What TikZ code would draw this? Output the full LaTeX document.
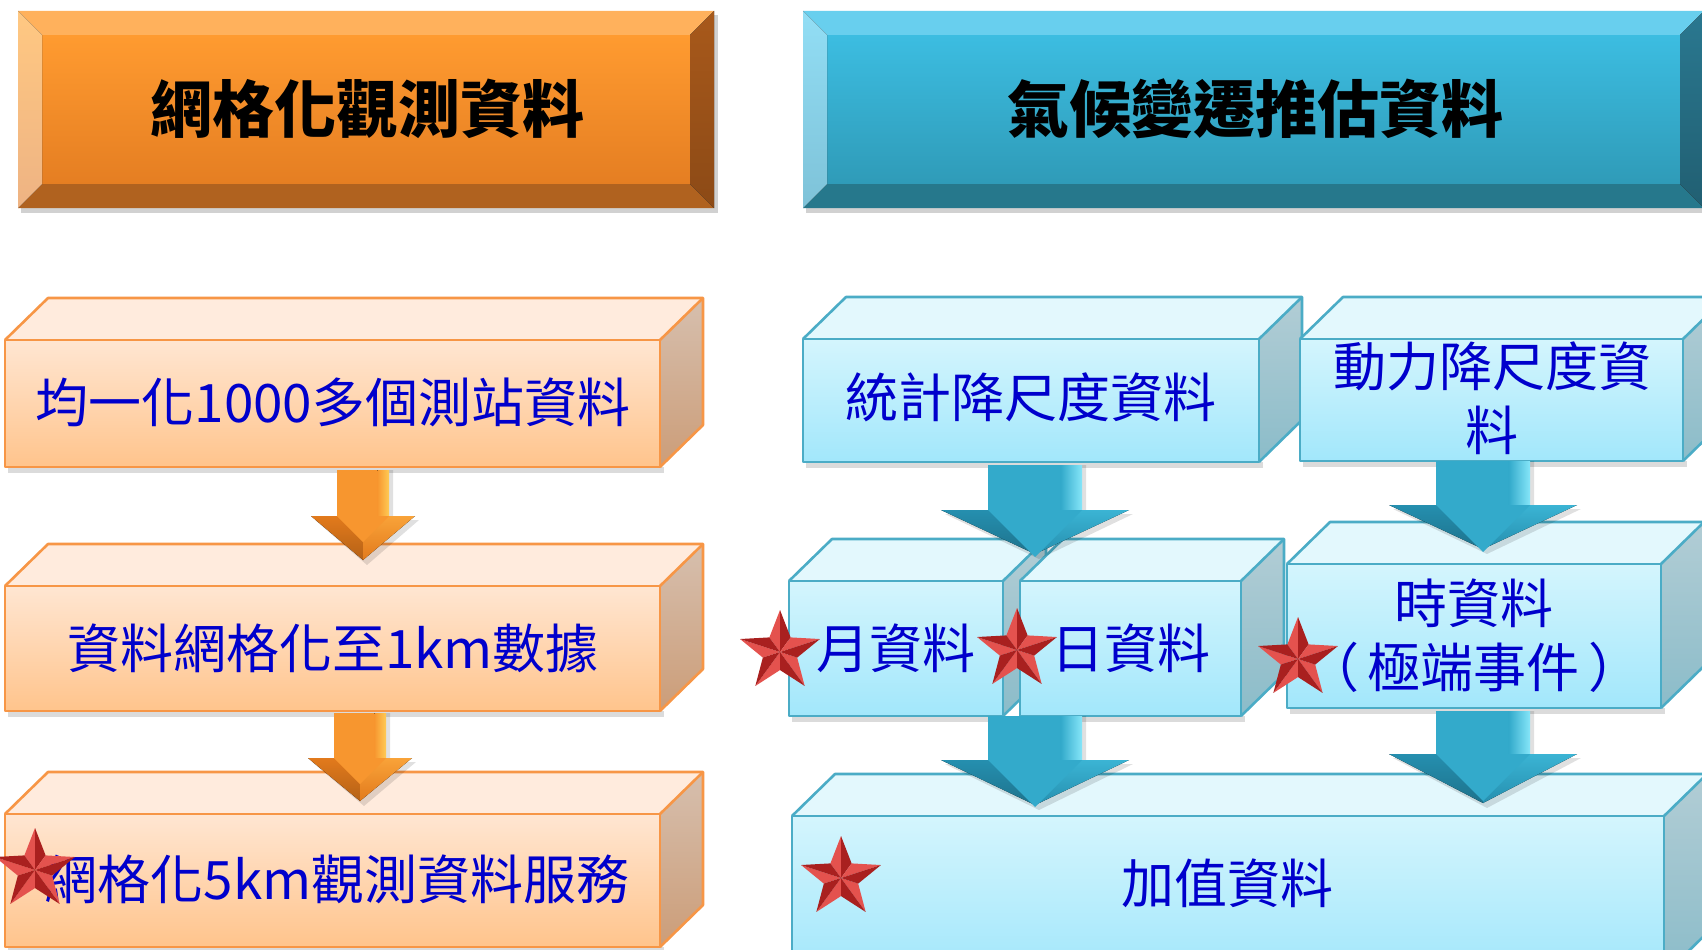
\documentclass[tikz,border=0pt]{standalone}
\usepackage{fontspec}
\setmainfont{Noto Sans CJK TC}
\newfontfamily\cjk{Noto Sans CJK TC}
\usetikzlibrary{calc}
% orange palette
\definecolor{oft}{HTML}{FFE6D2}
\definecolor{ofb}{HTML}{FFC48C}
\definecolor{otp}{HTML}{FFEBDD}
\definecolor{ost}{HTML}{D6BFAE}
\definecolor{osb}{HTML}{CC9D78}
\definecolor{oln}{HTML}{F79646}
% blue palette
\definecolor{bft}{HTML}{D4F5FD}
\definecolor{bfb}{HTML}{A2E7FB}
\definecolor{btp}{HTML}{E3F8FD}
\definecolor{bst}{HTML}{B2CDD5}
\definecolor{bsb}{HTML}{8BBCC9}
\definecolor{bln}{HTML}{4BACC6}
% headers
\definecolor{hoft}{HTML}{FF9B30}
\definecolor{hofb}{HTML}{E57E22}
\definecolor{hotp}{HTML}{FFB15C}
\definecolor{hobt}{HTML}{B0621F}
\definecolor{holt}{HTML}{FFC882}
\definecolor{holb}{HTML}{EEB383}
\definecolor{hort}{HTML}{A8591B}
\definecolor{horb}{HTML}{8C4A16}
\definecolor{hbft}{HTML}{3CBDE1}
\definecolor{hbfb}{HTML}{2F9BB8}
\definecolor{hbtp}{HTML}{68CFEE}
\definecolor{hbbt}{HTML}{26788C}
\definecolor{hblt}{HTML}{92DEF5}
\definecolor{hblb}{HTML}{7EC2D8}
\definecolor{hbrt}{HTML}{2A7890}
\definecolor{hbrb}{HTML}{215F72}
% arrows
\definecolor{oa1}{HTML}{EE8626}
\definecolor{oa2}{HTML}{F7962F}
\definecolor{oa3}{HTML}{FFCB55}
\definecolor{oh1}{HTML}{E27A1C}
\definecolor{oh2}{HTML}{F9A339}
\definecolor{ba1}{HTML}{2A9DBE}
\definecolor{ba2}{HTML}{33AACB}
\definecolor{ba3}{HTML}{86E6F9}
\definecolor{bh1}{HTML}{258FAF}
\definecolor{bh2}{HTML}{3BB4D4}
% stars
\definecolor{sl}{HTML}{E4524E}
\definecolor{sd}{HTML}{A9201F}
\definecolor{so}{HTML}{7E1414}
\definecolor{txtblue}{HTML}{0000CC}

\tikzset{
  boxtext/.style={font=\fontsize{53}{64}\selectfont, text=txtblue, align=center, inner sep=0pt},
  headtext/.style={font=\fontsize{62}{70}\selectfont\bfseries, text=black, inner sep=0pt},
}

% 3D box: x1 y1 x2 y2 palette
\newcommand\cube[5]{%
  \fill[black,opacity=.14] (#1+3,#4) rectangle (#3+4,#4+6);
  \fill[top color=#5ft,bottom color=#5fb] (#1,#2) rectangle (#3,#4);
  \fill[#5tp] (#1,#2) -- (#1+43,#2-42) -- (#3+43,#2-42) -- (#3,#2) -- cycle;
  \fill[top color=#5st,bottom color=#5sb] (#3,#2) -- (#3+43,#2-42) -- (#3+43,#4-42) -- (#3,#4) -- cycle;
  \draw[#5ln,line width=2.6pt,line join=round] (#1,#2) rectangle (#3,#4);
  \draw[#5ln,line width=2.6pt,line join=round] (#1,#2) -- (#1+43,#2-42) -- (#3+43,#2-42) -- (#3+43,#4-42) -- (#3,#4);
  \draw[#5ln,line width=2.6pt] (#3,#2) -- (#3+43,#2-42);
}

% block arrow: cx ytop yhead ytip shafthalf headhalf palette
\newcommand\barrow[7]{%
  \fill[black,opacity=.12] (#1-#5+4,#2) -- (#1+#5+4,#2) -- (#1+#5+4,#3+4) -- (#1+#6+4,#3+4) -- (#1+4,#4+5) -- (#1-#6+4,#3+4) -- (#1-#5+4,#3+4) -- cycle;
  \fill[#7a2] (#1-#5,#2) rectangle (#1+0.55*#5,#3+1);
  \fill[left color=#7a2,right color=#7a3] (#1+0.55*#5,#2) rectangle (#1+#5,#3+1);
  \fill[top color=#7h1,bottom color=#7h1!80!black] (#1-#6,#3) -- (#1,#3) -- (#1,#4) -- cycle;
  \fill[top color=#7h2,bottom color=#7h1] (#1,#3) -- (#1+#6,#3) -- (#1,#4) -- cycle;
  \fill[#7a2] (#1-#5,#3) -- (#1+#5,#3) -- (#1,#3+#5) -- cycle;
}

% shaded star: cx cy R
\newcommand\rstar[3]{%
  \foreach \k in {0,...,4}{
    \pgfmathsetmacro\aa{90+72*\k}
    \pgfmathsetmacro\al{\aa+36}
    \pgfmathsetmacro\ar{\aa-36}
    \fill[sl] (#1,#2) -- ({#1+#3*cos(\aa)},{#2-#3*sin(\aa)}) -- ({#1+0.43*#3*cos(\al)},{#2-0.43*#3*sin(\al)}) -- cycle;
    \fill[sd] (#1,#2) -- ({#1+#3*cos(\aa)},{#2-#3*sin(\aa)}) -- ({#1+0.43*#3*cos(\ar)},{#2-0.43*#3*sin(\ar)}) -- cycle;
  }
}

\begin{document}
\begin{tikzpicture}[x=1pt,y=-1pt]
\useasboundingbox (0,0) rectangle (1702,950);
\fill[white] (0,0) rectangle (1702,950);

% ---------- header 1 (orange)
\fill[black,opacity=.18] (21,15) rectangle (718,213);
\fill[top color=hoft,bottom color=hofb] (42,35) rectangle (690,184);
\fill[hotp] (18,11) -- (714,11) -- (690,35) -- (42,35) -- cycle;
\fill[hobt] (18,208) -- (714,208) -- (690,184) -- (42,184) -- cycle;
\fill[top color=holt,bottom color=holb] (18,11) -- (42,35) -- (42,184) -- (18,208) -- cycle;
\fill[top color=hort,bottom color=horb] (714,11) -- (690,35) -- (690,184) -- (714,208) -- cycle;
\node[headtext] (h1) at (367,109) {網格化觀測資料};

% ---------- header 2 (blue)
\fill[black,opacity=.18] (806,15) rectangle (1710,213);
\fill[top color=hbft,bottom color=hbfb] (827,35) rectangle (1680,184);
\fill[hbtp] (803,11) -- (1704,11) -- (1680,35) -- (827,35) -- cycle;
\fill[hbbt] (803,208) -- (1704,208) -- (1680,184) -- (827,184) -- cycle;
\fill[top color=hblt,bottom color=hblb] (803,11) -- (827,35) -- (827,184) -- (803,208) -- cycle;
\fill[top color=hbrt,bottom color=hbrb] (1704,11) -- (1680,35) -- (1680,184) -- (1704,208) -- cycle;
\node[headtext] (h2) at (1255,109) {氣候變遷推估資料};

% ---------- left column boxes
\cube{5}{340}{660}{467}{o}
\cube{5}{586}{660}{711}{o}
\cube{5}{814}{660}{947}{o}

% ---------- right column boxes
\cube{803}{339}{1259}{462}{b}
\cube{1300}{339}{1683}{461}{b}
\cube{789}{581}{1003}{716}{b}
\cube{1020}{581}{1241}{716}{b}
\cube{1287}{564}{1661}{708}{b}
\cube{792}{816}{1664}{975}{b}

% ---------- arrows
\barrow{363}{470}{516}{560}{26}{52}{o}
\barrow{360}{713}{758}{801}{26}{52}{o}
\barrow{1035}{465}{510}{554}{47}{94}{b}
\barrow{1483}{461}{505}{549}{47}{94}{b}
\barrow{1035}{716}{760}{805}{47}{94}{b}
\barrow{1483}{711}{754}{803}{47}{94}{b}

% ---------- texts
\node[boxtext] (l1) at (333,402) {均一化1000多個測站資料};
\node[boxtext] (l2) at (333,648) {資料網格化至1km數據};
\node[boxtext] (l3) at (337,879) {網格化5km觀測資料服務};
\node[boxtext] (r1) at (1031,397) {統計降尺度資料};
\node[boxtext] (r2) at (1492,398) {動力降尺度資\\料};
\node[boxtext] (r3) at (896,648) {月資料};
\node[boxtext] (r4) at (1131,648) {日資料};
\node[boxtext] (r5) at (1474,636) {時資料\\（\hspace{9pt}極端事件\hspace{9pt}）};
\node[boxtext] (r6) at (1227,883) {加值資料};

% ---------- stars
\rstar{35}{870}{42}
\rstar{780}{652}{42}
\rstar{1017}{650}{42}
\rstar{1298}{659}{42}
\rstar{841}{878}{42}
\end{tikzpicture}
\end{document}
